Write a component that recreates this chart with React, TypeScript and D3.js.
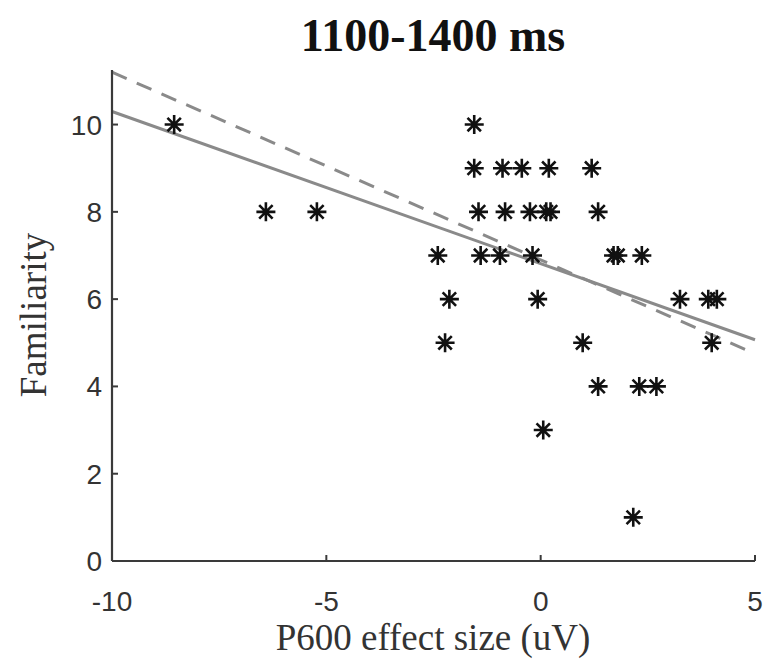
import React from "react";
import * as d3 from "d3";

const titleText = "1100-1400 ms";
const xLabel = "P600 effect size (uV)";
const yLabel = "Familiarity";
const xTicks = [-10, -5, 0, 5];
const yTicks = [0, 2, 4, 6, 8, 10];

const effectSize = [
  -8.55, -6.41, -5.22,
  -1.55,
  -1.55, -0.89, -0.44, 0.19, 1.19,
  -1.45, -0.83, -0.25, 0.13, 0.23, 1.34,
  -2.40, -1.40, -0.95, -0.19, 1.70, 1.80, 2.36,
  -2.13, -0.07, 3.25, 3.91, 4.11,
  -2.23, 0.98, 3.99,
  1.34, 2.30, 2.70,
  0.06,
  2.16,
];
const familiarity = [
  10, 8, 8,
  10,
  9, 9, 9, 9, 9,
  8, 8, 8, 8, 8, 8,
  7, 7, 7, 7, 7, 7, 7,
  6, 6, 6, 6, 6,
  5, 5, 5,
  4, 4, 4,
  3,
  1,
];

const fitX = [-10, 5];
const solidFitY = [10.3, 5.07];
const dashedFitY = [11.2, 4.75];

export default function App() {
  const W = 769, H = 660;
  const x = d3.scaleLinear().domain([-10, 5]).range([112, 755]);
  const y = d3.scaleLinear().domain([0, 11.25]).range([561, 70]);
  const line = d3.line<number>().x((_, i) => x(fitX[i])).y((d) => y(d));
  const axisColor = "#3a3a3a";
  const tickFont = "'Liberation Sans', Arial, sans-serif";
  const serif = "'Liberation Serif', 'Times New Roman', serif";
  const r = 9.5;
  const star = (cx: number, cy: number) => {
    const d = r * Math.SQRT1_2;
    return `M${cx - r},${cy}L${cx + r},${cy}M${cx},${cy - r}L${cx},${cy + r}M${cx - d},${cy - d}L${cx + d},${cy + d}M${cx - d},${cy + d}L${cx + d},${cy - d}`;
  };
  return (
    <svg width={W} height={H} style={{ position: "absolute", left: 0, top: 0, background: "#fff" }}>
      <text x={433} y={51} textAnchor="middle" fontFamily={serif} fontWeight="bold" fontSize={46} fill="#111">
        {titleText}
      </text>
      {/* fit lines */}
      <path d={line(solidFitY) || ""} fill="none" stroke="#8a8a8a" strokeWidth={3} />
      <path d={line(dashedFitY) || ""} fill="none" stroke="#8a8a8a" strokeWidth={3} strokeDasharray="16 11" />
      {/* axes */}
      <line x1={x(-10)} x2={x(5)} y1={y(0)} y2={y(0)} stroke={axisColor} strokeWidth={2.2} />
      <line x1={x(-10)} x2={x(-10)} y1={y(0)} y2={y(11.25)} stroke={axisColor} strokeWidth={2.2} />
      {xTicks.map((t) => (
        <g key={"xt" + t}>
          <line x1={x(t)} x2={x(t)} y1={y(0)} y2={y(0) - 6} stroke={axisColor} strokeWidth={2} />
          <text x={x(t)} y={y(0) + 50} textAnchor="middle" fontFamily={tickFont} fontSize={28} fill="#333">
            {t < 0 ? "-" + Math.abs(t) : String(t)}
          </text>
        </g>
      ))}
      {yTicks.map((t) => (
        <g key={"yt" + t}>
          <line x1={x(-10)} x2={x(-10) + 6} y1={y(t)} y2={y(t)} stroke={axisColor} strokeWidth={2} />
          <text x={x(-10) - 10} y={y(t) + 10} textAnchor="end" fontFamily={tickFont} fontSize={28} fill="#333">
            {String(t)}
          </text>
        </g>
      ))}
      {/* points */}
      {effectSize.map((v, i) => (
        <path key={"p" + i} d={star(x(v), y(familiarity[i]))} stroke="#111" strokeWidth={2.6} fill="none" />
      ))}
      <text x={433} y={650} textAnchor="middle" fontFamily={serif} fontSize={37} fill="#333">
        {xLabel}
      </text>
      <text transform={`translate(46,315) rotate(-90)`} textAnchor="middle" fontFamily={serif} fontSize={37} fill="#333">
        {yLabel}
      </text>
    </svg>
  );
}
